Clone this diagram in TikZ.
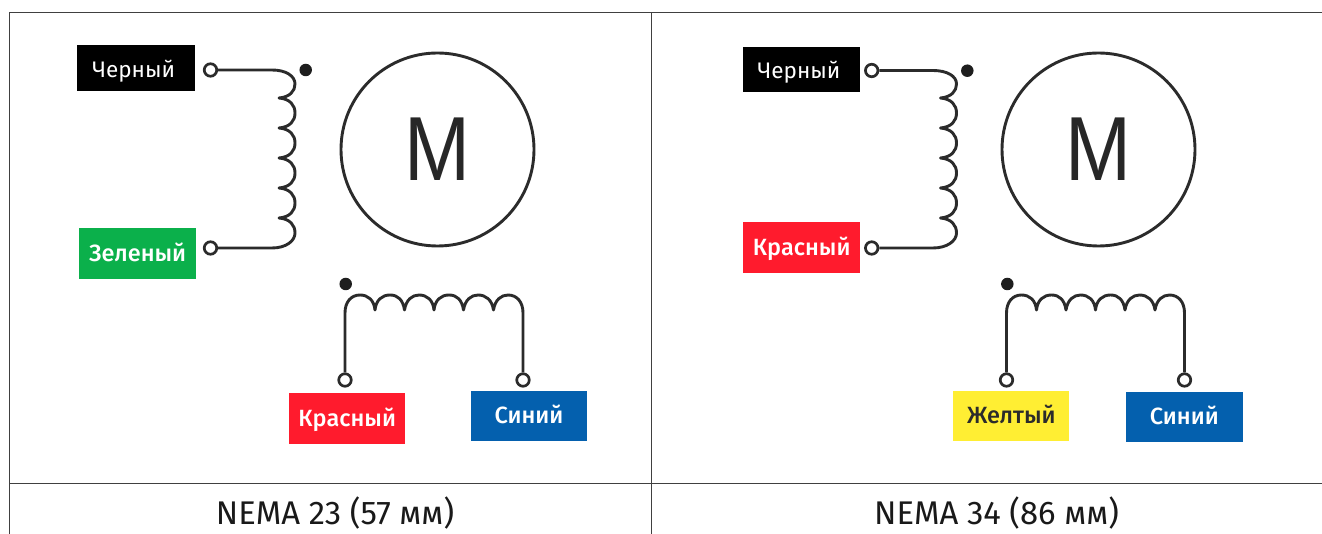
\documentclass[tikz,border=0pt]{standalone}
\usepackage{graphicx}
\usepackage{fontspec}
\setmainfont{Fira Sans}
\newfontfamily\medf{Fira Sans Medium}
\newfontfamily\motorf{Liberation Sans}
\definecolor{wire}{HTML}{2B2B2B}
\definecolor{lgreen}{HTML}{0BB04B}
\definecolor{lred}{HTML}{FF1B2D}
\definecolor{lblue}{HTML}{0460AE}
\definecolor{lyellow}{HTML}{FFEE33}
\newcommand{\motorM}{\scalebox{0.87}[1]{M}}
\tikzset{
  wirepath/.style={draw=wire,line width=2.9pt,line join=round},
  framerule/.style={draw=black!75,line width=1pt},
  terminal/.style={circle,draw=wire,fill=white,line width=2.7pt,inner sep=0pt,minimum size=12.5pt},
  phasedot/.style={circle,fill=wire!70!black,inner sep=0pt,minimum size=12.5pt},
  colorbox/.style={rectangle,inner sep=0pt,minimum width=116.5pt,minimum height=50.5pt,text height=16pt,text depth=0pt,font=\medf\fontsize{23.5}{28}\selectfont,text=white},
  blackbox/.style={colorbox,fill=black,minimum width=117.7pt,minimum height=45.5pt,font=\fontsize{22.5}{28}\selectfont},
  motor/.style={circle,draw=wire,line width=2.9pt,inner sep=0pt,minimum size=193pt,font=\motorf\fontsize{91}{100}\selectfont,text=wire!90!black},
  caption/.style={font=\fontsize{32.8}{36}\selectfont,text=black!90,inner sep=0pt,text height=22.5pt,text depth=0pt}
}
\begin{document}
\begin{tikzpicture}[x=1pt,y=-1pt]
\useasboundingbox (0,0) rectangle (1322,534);
\fill[white] (0,0) rectangle (1322,534);
% frame
\coordinate (tl) at (9,13);
\coordinate (tr) at (1322,13);
\coordinate (bl) at (9,534);
\coordinate (ml) at (9,483);
\coordinate (mr) at (1322,483);
\coordinate (tm) at (651,13);
\coordinate (bm) at (651,534);
\draw[framerule] (bl) -- (tl) -- (tr);
\draw[framerule] (ml) -- (mr);
\draw[framerule] (tm) -- (bm);
% --- left panel
\node[blackbox] (a1) at (136.2,67.8) {\raisebox{-2pt}{Черный}\kern5pt};
\node[colorbox,fill=lgreen] (a2) at (137.7,253.7) {Зеленый};
\node[colorbox,fill=lred] (a3) at (347.2,418.7) {Красный};
\node[colorbox,fill=lblue] (a4) at (529,415.9) {Синий};
\node[motor] (am) at (437.5,149.5) {\motorM};
\node[phasedot] (ad1) at (305.7,70) {};
\node[phasedot] (ad2) at (345.7,284) {};
\node[terminal] (at1) at (210.5,70) {};
\node[terminal] (at2) at (210.5,248) {};
\node[terminal] (at3) at (345,380) {};
\node[terminal] (at4) at (523,380) {};
\draw[wirepath] (at1.east) -- (272,70)
  .. controls (286,70) and (295,76) .. (295,84)
  .. controls (295,91) and (290,97) .. (279,98)
  .. controls (290,99) and (295,105) .. (295,113)
  .. controls (295,121) and (290,127) .. (279,128)
  .. controls (290,129) and (295,135) .. (295,143)
  .. controls (295,151) and (290,157) .. (279,158)
  .. controls (290,159) and (295,165) .. (295,173)
  .. controls (295,181) and (290,187) .. (279,188)
  .. controls (290,189) and (295,195) .. (295,203)
  .. controls (295,211) and (290,217) .. (279,218)
  .. controls (290,219) and (295,225) .. (295,233)
  .. controls (295,241) and (286,248) .. (272,248) -- (at2.east);
\draw[wirepath] (at3.north) -- (345,313)
  .. controls (345,302) and (351,295) .. (360,295)
  .. controls (368,295) and (374,300) .. (375,310)
  .. controls (376,300) and (382,295) .. (390,295)
  .. controls (398,295) and (403,300) .. (404.5,310)
  .. controls (406,300) and (412,295) .. (419,295)
  .. controls (427,295) and (433,300) .. (434,310)
  .. controls (435,300) and (441,295) .. (449,295)
  .. controls (457,295) and (462,300) .. (463.5,310)
  .. controls (465,300) and (471,295) .. (478,295)
  .. controls (486,295) and (492,300) .. (493.5,310)
  .. controls (495,300) and (501,295) .. (508,295)
  .. controls (517,295) and (523,302) .. (523,313)
  -- (at4.north);
\node[caption] (ac) at (335,513) {NEMA 23 (57 мм)};
% --- right panel
\node[blackbox] (b1) at (801.5,69.4) {\raisebox{-1.3pt}{Черный}\kern5pt};
\node[colorbox,fill=lred] (b2) at (801.7,247.5) {Красный};
\node[colorbox,fill=lyellow,text=wire,minimum width=116pt] (b3) at (1011.3,415.9) {Желтый};
\node[colorbox,fill=lblue] (b4) at (1184.3,416.9) {Синий};
\node[motor] (bm1) at (1098.5,149.5) {\motorM};
\node[phasedot] (bd1) at (967.3,70.7) {};
\node[phasedot] (bd2) at (1007.3,284) {};
\node[terminal] (bt1) at (871.7,70.5) {};
\node[terminal] (bt2) at (871.7,248) {};
\node[terminal] (bt3) at (1006.5,380) {};
\node[terminal] (bt4) at (1184.5,380) {};
\draw[wirepath] (bt1.east) -- (933,70.5)
  .. controls (947,70.5) and (956.5,76) .. (956.5,84)
  .. controls (956.5,91) and (951.5,97) .. (940.5,98)
  .. controls (951.5,99) and (956.5,105) .. (956.5,113)
  .. controls (956.5,121) and (951.5,127) .. (940.5,128)
  .. controls (951.5,129) and (956.5,135) .. (956.5,143)
  .. controls (956.5,151) and (951.5,157) .. (940.5,158)
  .. controls (951.5,159) and (956.5,165) .. (956.5,173)
  .. controls (956.5,181) and (951.5,187) .. (940.5,188)
  .. controls (951.5,189) and (956.5,195) .. (956.5,203)
  .. controls (956.5,211) and (951.5,217) .. (940.5,218)
  .. controls (951.5,219) and (956.5,225) .. (956.5,233)
  .. controls (956.5,241) and (947,248) .. (933,248) -- (bt2.east);
\draw[wirepath] (bt3.north) -- (1006.5,313)
  .. controls (1006.5,302) and (1012.5,295) .. (1021.5,295)
  .. controls (1029.5,295) and (1035.5,300) .. (1036.5,310)
  .. controls (1037.5,300) and (1043.5,295) .. (1051.5,295)
  .. controls (1059.5,295) and (1064.5,300) .. (1066,310)
  .. controls (1067.5,300) and (1073.5,295) .. (1080.5,295)
  .. controls (1088.5,295) and (1094.5,300) .. (1095.5,310)
  .. controls (1096.5,300) and (1102.5,295) .. (1110.5,295)
  .. controls (1118.5,295) and (1123.5,300) .. (1125,310)
  .. controls (1126.5,300) and (1132.5,295) .. (1139.5,295)
  .. controls (1147.5,295) and (1153.5,300) .. (1155,310)
  .. controls (1156.5,300) and (1162.5,295) .. (1169.5,295)
  .. controls (1178.5,295) and (1184.5,302) .. (1184.5,313)
  -- (bt4.north);
\node[caption] (bc) at (996.5,513) {NEMA 34 (86 мм)};
\end{tikzpicture}
\end{document}
